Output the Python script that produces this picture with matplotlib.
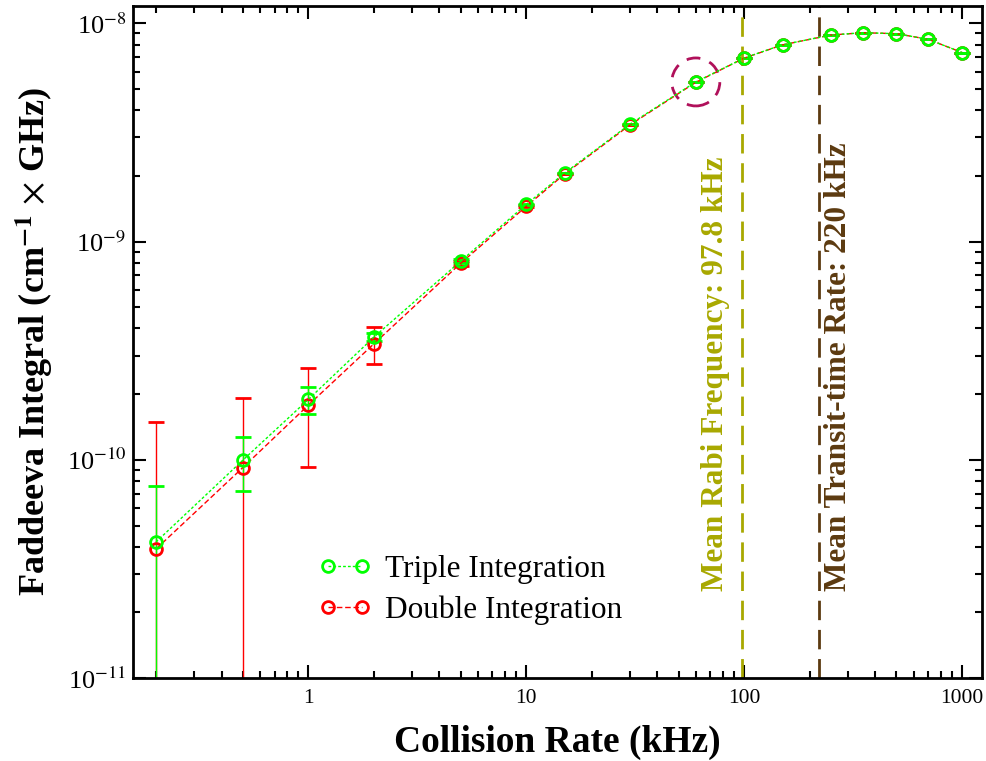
import numpy as np
import matplotlib
matplotlib.use("Agg")
import matplotlib.pyplot as plt
from matplotlib.patches import Ellipse
from matplotlib.lines import Line2D

plt.rcParams['font.family'] = ['Liberation Serif', 'DejaVu Serif']
plt.rcParams['mathtext.fontset'] = 'stix'
plt.rcParams['axes.unicode_minus'] = False

# Datos
rate = [0.2, 0.5, 1, 2, 5, 10, 15, 30, 60, 100, 150, 250, 350, 500, 700, 1000]
triple = [4.2e-11, 9.95e-11, 1.89e-10, 3.65e-10, 8.13e-10, 1.48e-9, 2.06e-9, 3.46e-9,
          5.39e-9, 6.94e-9, 7.98e-9, 8.84e-9, 9.06e-9, 8.97e-9, 8.45e-9, 7.35e-9]
triple_err = [3.4e-11, 2.75e-11, 2.7e-11, 1.6e-11, 1.5e-11, 1.0e-11, 8e-12, 5e-12,
              4e-12, 3e-12, 3e-12, 3e-12, 3e-12, 3e-12, 3e-12, 3e-12]
double = [3.9e-11, 9.2e-11, 1.78e-10, 3.4e-10, 7.95e-10, 1.45e-9, 2.04e-9, 3.43e-9,
          5.37e-9, 6.93e-9, 7.97e-9, 8.84e-9, 9.06e-9, 8.97e-9, 8.45e-9, 7.35e-9]
double_err = [1.1e-10, 1.01e-10, 8.5e-11, 6.5e-11, 2.0e-11, 1.5e-11, 1.0e-11, 6e-12,
              4e-12, 3e-12, 3e-12, 3e-12, 3e-12, 3e-12, 3e-12, 3e-12]
rabi = 97.8
transit = 220
yticks = [1e-11, 1e-10, 1e-9, 1e-8]
ylabels = [r'10$^{\mathrm{-11}}$', r'10$^{\mathrm{-10}}$', r'10$^{\mathrm{-9}}$', r'10$^{\mathrm{-8}}$']

verde = '#00ff00'
rojo = '#ff0000'
oliva = '#a8a800'
marron = '#5c3a10'

fig = plt.figure(figsize=(9.87, 7.61), dpi=100)
ax = fig.add_axes([0.1348, 0.109, 0.8602, 0.883])
ax.set_xscale('log')
ax.set_yscale('log')
xmin, xmax = 0.157, 1235
ax.set_xlim(xmin, xmax)
ax.set_ylim(1e-11, 1.2e-8)


def barras(x, y, e, color, ls):
    y = np.array(y)
    e = np.array(e)
    lower = np.minimum(e, y - 1e-14)
    ax.errorbar(x, y, yerr=[lower, e], color=color, ls=ls, lw=1.0,
                marker='o', ms=8.5, mfc='none', mec=color, mew=2.0,
                ecolor=color, elinewidth=1.0, capsize=6, capthick=1.0)


barras(rate, double, double_err, rojo, (0, (4, 2)))
barras(rate, triple, triple_err, verde, (0, (2, 1.5)))

# Lineas verticales
ax.axvline(rabi, color=oliva, lw=2, ls=(0, (7, 3.5)))
ax.axvline(transit, color=marron, lw=2, ls=(0, (7, 3.5)))
ax.text(74, 0.13, 'Mean Rabi Frequency: 97.8 kHz', transform=ax.get_xaxis_transform(),
        rotation=90, color=oliva, fontsize=22.5, fontweight='bold',
        ha='center', va='bottom')
ax.text(272, 0.13, 'Mean Transit-time Rate: 220 kHz', transform=ax.get_xaxis_transform(),
        rotation=90, color=marron, fontsize=22.5, fontweight='bold',
        ha='center', va='bottom')

# Circulo discontinuo
lx = (np.log10(60) - np.log10(xmin)) / (np.log10(xmax) - np.log10(xmin))
ly = (np.log10(5.39e-9) - (-11)) / (np.log10(1.2e-8) - (-11))
ax.add_patch(Ellipse((lx, ly), 48 / 849, 48 / 672, transform=ax.transAxes,
                     fill=False, ec='#b0105a', lw=2, ls=(0, (5, 3.5))))

ax.set_xticks([1, 10, 100, 1000])
ax.set_xticklabels(['1', '10', '100', '1000'])
ax.set_yticks(yticks)
ax.set_yticklabels(ylabels)
ax.tick_params(which='both', direction='in', top=True, right=True, width=1.5)
ax.tick_params(axis='x', labelsize=15.5, pad=8)
ax.tick_params(axis='y', labelsize=19, pad=5)
ax.tick_params(which='major', length=9.5)
ax.tick_params(which='minor', length=5)
for s in ax.spines.values():
    s.set_linewidth(2)

ax.set_xlabel('Collision Rate (kHz)', fontsize=27, fontweight='bold', labelpad=12)
ax.set_ylabel(r'Faddeeva Integral (cm$^{\mathbf{-1}}$ $\times$ GHz)', fontsize=26,
              fontweight='bold', labelpad=8)

h = [Line2D([], [], color=verde, ls=(0, (2, 1.5)), lw=1.0, marker='o', ms=8.5,
            mfc='none', mec=verde, mew=2.0),
     Line2D([], [], color=rojo, ls=(0, (4, 2)), lw=1.0, marker='o', ms=8.5,
            mfc='none', mec=rojo, mew=2.0)]
ax.legend(h, ['Triple Integration', 'Double Integration'], loc='lower left',
          bbox_to_anchor=(0.186, 0.037), frameon=False, fontsize=22.5, numpoints=2,
          handlelength=1.68, handletextpad=0.42, labelspacing=0.38)

fig.savefig('out.png', dpi=100)
